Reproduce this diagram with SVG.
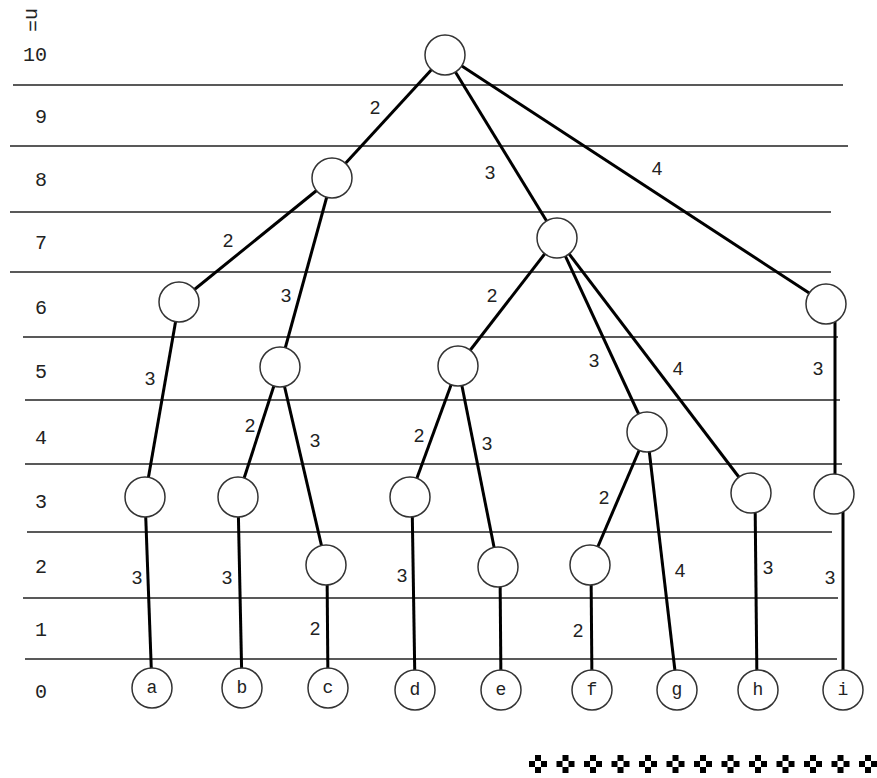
<svg xmlns="http://www.w3.org/2000/svg" width="877" height="778" viewBox="0 0 877 778">
<defs>
<style>
.lvl{stroke:#222;stroke-width:1.6;fill:none}
.e{stroke:#000;stroke-width:3;fill:none}
.n{fill:#fff;stroke:#333;stroke-width:1.5}
.lab{font-family:"Liberation Mono",monospace;font-size:20px;fill:#222;text-anchor:middle;dominant-baseline:central}
.w{font-family:"Liberation Sans",Arial,sans-serif;font-size:19px;fill:#222;text-anchor:middle;dominant-baseline:central}
.lf{font-family:"Liberation Mono",monospace;font-size:18px;fill:#222;text-anchor:middle;dominant-baseline:central}
</style>
<g id="dia">
<rect x="-3" y="-9" width="6" height="6" fill="#000"/>
<rect x="-9" y="-3" width="6" height="6" fill="#000"/>
<rect x="3" y="-3" width="6" height="6" fill="#000"/>
<rect x="-3" y="3" width="6" height="6" fill="#000"/>
</g>
</defs>
<rect width="877" height="778" fill="#fff"/>
<g id="levels">
<line class="lvl" x1="13" y1="85" x2="843" y2="85"/>
<line class="lvl" x1="10" y1="146" x2="848" y2="146"/>
<line class="lvl" x1="10" y1="212" x2="831" y2="212"/>
<line class="lvl" x1="10" y1="272" x2="831" y2="272"/>
<line class="lvl" x1="23" y1="337" x2="838" y2="337"/>
<line class="lvl" x1="25" y1="400" x2="840" y2="400"/>
<line class="lvl" x1="25" y1="464" x2="842" y2="464"/>
<line class="lvl" x1="27" y1="532" x2="832" y2="532"/>
<line class="lvl" x1="23" y1="598" x2="838" y2="598"/>
<line class="lvl" x1="25" y1="659" x2="837" y2="659"/>
<text class="lab" transform="translate(31,8) rotate(90)" style="text-anchor:start">n=</text>
<text class="lab" x="35" y="55">10</text>
<text class="lab" x="41" y="117">9</text>
<text class="lab" x="41" y="180">8</text>
<text class="lab" x="41" y="243">7</text>
<text class="lab" x="41" y="308">6</text>
<text class="lab" x="41" y="372">5</text>
<text class="lab" x="41" y="438">4</text>
<text class="lab" x="41" y="502">3</text>
<text class="lab" x="41" y="567">2</text>
<text class="lab" x="41" y="630">1</text>
<text class="lab" x="41" y="692">0</text>
</g>
<g id="connectors">
<line class="e" x1="445" y1="55" x2="332" y2="178"/>
<line class="e" x1="445" y1="55" x2="557" y2="238"/>
<line class="e" x1="445" y1="55" x2="826" y2="304"/>
<line class="e" x1="332" y1="178" x2="179" y2="302"/>
<line class="e" x1="332" y1="178" x2="280" y2="367"/>
<line class="e" x1="179" y1="302" x2="145" y2="497"/>
<line class="e" x1="280" y1="367" x2="238" y2="497"/>
<line class="e" x1="280" y1="367" x2="326" y2="565"/>
<line class="e" x1="145" y1="497" x2="152" y2="688"/>
<line class="e" x1="238" y1="497" x2="242" y2="688"/>
<line class="e" x1="327" y1="565" x2="328" y2="688"/>
<line class="e" x1="557" y1="238" x2="458" y2="366"/>
<line class="e" x1="557" y1="238" x2="647" y2="432"/>
<line class="e" x1="557" y1="238" x2="751" y2="493"/>
<line class="e" x1="458" y1="366" x2="410" y2="497"/>
<line class="e" x1="458" y1="366" x2="498" y2="567"/>
<line class="e" x1="412" y1="497" x2="415" y2="688"/>
<line class="e" x1="500" y1="567" x2="501" y2="688"/>
<line class="e" x1="647" y1="432" x2="590" y2="565"/>
<line class="e" x1="647" y1="432" x2="677" y2="688"/>
<line class="e" x1="591" y1="565" x2="592" y2="688"/>
<line class="e" x1="755" y1="493" x2="757" y2="688"/>
<line class="e" x1="835" y1="304" x2="835" y2="494"/>
<line class="e" x1="843" y1="494" x2="843" y2="688"/>
</g>
<g id="weights">
<text class="w" x="375" y="107">2</text>
<text class="w" x="490" y="172">3</text>
<text class="w" x="657" y="168">4</text>
<text class="w" x="228" y="240">2</text>
<text class="w" x="286" y="295">3</text>
<text class="w" x="150" y="378">3</text>
<text class="w" x="250" y="425">2</text>
<text class="w" x="315" y="440">3</text>
<text class="w" x="137" y="577">3</text>
<text class="w" x="227" y="577">3</text>
<text class="w" x="315" y="628">2</text>
<text class="w" x="492" y="295">2</text>
<text class="w" x="594" y="360">3</text>
<text class="w" x="678" y="368">4</text>
<text class="w" x="419" y="435">2</text>
<text class="w" x="487" y="443">3</text>
<text class="w" x="402" y="575">3</text>
<text class="w" x="604" y="497">2</text>
<text class="w" x="680" y="570">4</text>
<text class="w" x="578" y="630">2</text>
<text class="w" x="768" y="567">3</text>
<text class="w" x="818" y="368">3</text>
<text class="w" x="830" y="577">3</text>
</g>
<g id="root"><circle class="n" cx="445" cy="55" r="20"/></g>
<g id="n8"><circle class="n" cx="332" cy="178" r="20"/></g>
<g id="n7"><circle class="n" cx="557" cy="238" r="20"/></g>
<g id="n6l"><circle class="n" cx="179" cy="302" r="20"/></g>
<g id="n6r"><circle class="n" cx="826" cy="304" r="20"/></g>
<g id="n5l"><circle class="n" cx="280" cy="367" r="20"/></g>
<g id="n5m"><circle class="n" cx="458" cy="366" r="20"/></g>
<g id="n4"><circle class="n" cx="647" cy="432" r="20"/></g>
<g id="n3a"><circle class="n" cx="145" cy="497" r="20"/></g>
<g id="n3b"><circle class="n" cx="238" cy="497" r="20"/></g>
<g id="n3d"><circle class="n" cx="410" cy="497" r="20"/></g>
<g id="n3h"><circle class="n" cx="751" cy="493" r="20"/></g>
<g id="n3i"><circle class="n" cx="834" cy="494" r="20"/></g>
<g id="n2c"><circle class="n" cx="326" cy="565" r="20"/></g>
<g id="n2e"><circle class="n" cx="498" cy="567" r="20"/></g>
<g id="n2f"><circle class="n" cx="590" cy="565" r="20"/></g>
<g id="leaf-a"><circle class="n" cx="152" cy="688" r="20"/><text class="lf" x="152" y="688">a</text></g>
<g id="leaf-b"><circle class="n" cx="242" cy="688" r="20"/><text class="lf" x="242" y="688">b</text></g>
<g id="leaf-c"><circle class="n" cx="328" cy="688" r="20"/><text class="lf" x="328" y="688">c</text></g>
<g id="leaf-d"><circle class="n" cx="415" cy="690" r="20"/><text class="lf" x="415" y="690">d</text></g>
<g id="leaf-e"><circle class="n" cx="501" cy="690" r="20"/><text class="lf" x="501" y="690">e</text></g>
<g id="leaf-f"><circle class="n" cx="592" cy="690" r="20"/><text class="lf" x="592" y="690">f</text></g>
<g id="leaf-g"><circle class="n" cx="677" cy="690" r="20"/><text class="lf" x="677" y="690">g</text></g>
<g id="leaf-h"><circle class="n" cx="758" cy="690" r="20"/><text class="lf" x="758" y="690">h</text></g>
<g id="leaf-i"><circle class="n" cx="843" cy="690" r="20"/><text class="lf" x="843" y="690">i</text></g>
<g id="ornament">
<use href="#dia" x="538" y="764"/>
<use href="#dia" x="565.5" y="764"/>
<use href="#dia" x="593" y="764"/>
<use href="#dia" x="620.5" y="764"/>
<use href="#dia" x="648" y="764"/>
<use href="#dia" x="675.5" y="764"/>
<use href="#dia" x="703" y="764"/>
<use href="#dia" x="730.5" y="764"/>
<use href="#dia" x="758" y="764"/>
<use href="#dia" x="785.5" y="764"/>
<use href="#dia" x="813" y="764"/>
<use href="#dia" x="840.5" y="764"/>
<use href="#dia" x="868" y="764"/>
</g>
</svg>
